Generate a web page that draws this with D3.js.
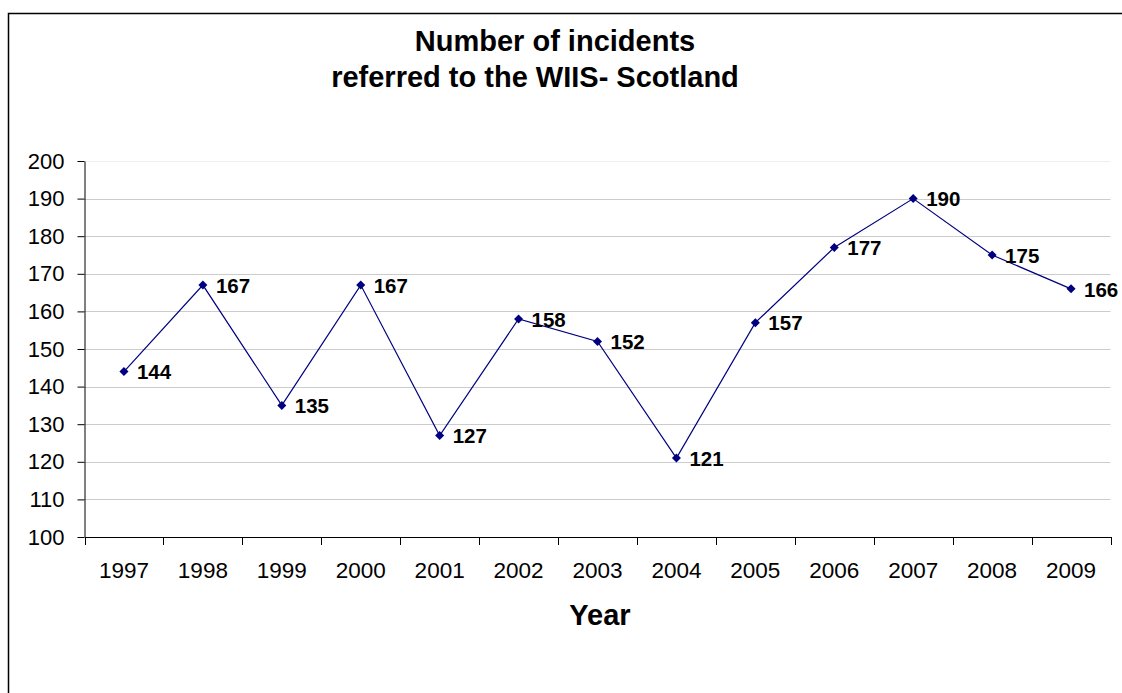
<!DOCTYPE html>
<html><head><meta charset="utf-8">
<script src="https://cdn.jsdelivr.net/npm/d3@7"></script>
<style>body{margin:0;background:#fff;}svg{display:block;font-family:"Liberation Sans",Arial,sans-serif;}</style>
</head><body>
<svg id="c" width="1122" height="693"></svg>
<script>
const years = ["1997","1998","1999","2000","2001","2002","2003","2004","2005","2006","2007","2008","2009"];
const incidents = [144,167,135,167,127,158,152,121,157,177,190,175,166];
const yTicks = [100,110,120,130,140,150,160,170,180,190,200];
const titleLines = ["Number of incidents","referred to the WIIS- Scotland"];
const xTitle = "Year";

const svg = d3.select("#c");
const L = 84.5, R = 1110.5, T = 161, B = 537;
const FF = "Liberation Sans, Arial, sans-serif";

svg.append("rect").attr("x",8.5).attr("y",13.5).attr("width",1130).attr("height",700)
  .attr("fill","#fff").attr("stroke","#000").attr("stroke-width",1.5);

const x = d3.scaleBand().domain(years).range([L,R]);
const y = d3.scaleLinear().domain([100,200]).range([B,T]);

// gridlines
svg.append("g").selectAll("line").data(yTicks.filter(v=>v>100)).join("line")
  .attr("x1",L).attr("x2",R).attr("y1",d=>Math.round(y(d))+0.5).attr("y2",d=>Math.round(y(d))+0.5)
  .attr("stroke",d=>d===200?"#eeeeee":"#cccccc").attr("stroke-width",1.2);

// y axis
const ya = svg.append("g").attr("transform",`translate(${L},0)`)
  .call(d3.axisLeft(y).tickValues(yTicks).tickSize(7).tickPadding(13).tickSizeOuter(0));
ya.select(".domain").attr("stroke","#000");
ya.selectAll(".tick line").attr("stroke","#000");
ya.selectAll(".tick text").attr("font-size",22).attr("fill","#000").attr("font-family",FF);

// x axis
const xa = svg.append("g").attr("transform",`translate(0,${B})`)
  .call(d3.axisBottom(x).tickSize(0).tickPadding(24).tickSizeOuter(0));
xa.select(".domain").attr("stroke","#000");
xa.selectAll(".tick text").attr("font-size",22.5).attr("fill","#000").attr("font-family",FF)
  .attr("dy",null).attr("y",40.5);
// boundary ticks
const bounds = years.map(d=>x(d)).concat([x(years[years.length-1])+x.bandwidth()]);
svg.append("g").selectAll("line").data(bounds).join("line")
  .attr("x1",d=>Math.round(d)+0.5).attr("x2",d=>Math.round(d)+0.5).attr("y1",B).attr("y2",B+8)
  .attr("stroke","#000");

// line
const cx = d => x(d) + x.bandwidth()/2;
svg.append("path").datum(incidents.map((v,i)=>[cx(years[i]),y(v)]))
  .attr("d",d3.line()).attr("fill","none").attr("stroke","#000080").attr("stroke-width",1.2);

// markers
svg.append("g").selectAll("path").data(incidents).join("path")
  .attr("transform",(d,i)=>`translate(${cx(years[i])},${y(d)})`)
  .attr("d",d3.symbol().type(d3.symbolDiamond2).size(52))
  .attr("fill","#000080");

// labels
svg.append("g").selectAll("text").data(incidents).join("text")
  .attr("x",(d,i)=>cx(years[i])+13).attr("y",d=>y(d)+7.8)
  .attr("font-size",20.5).attr("font-weight","bold").attr("fill","#000").text(d=>d);

// title
const titleX = [555, 535];
svg.append("g").selectAll("text").data(titleLines).join("text")
  .attr("x",(d,i)=>titleX[i]).attr("y",(d,i)=>50.7+i*36.6).attr("text-anchor","middle")
  .attr("font-size",29).attr("font-weight","bold").text(d=>d);

svg.append("text").attr("x",600).attr("y",625).attr("text-anchor","middle")
  .attr("font-size",29).attr("font-weight","bold").text(xTitle);
</script>
</body></html>
